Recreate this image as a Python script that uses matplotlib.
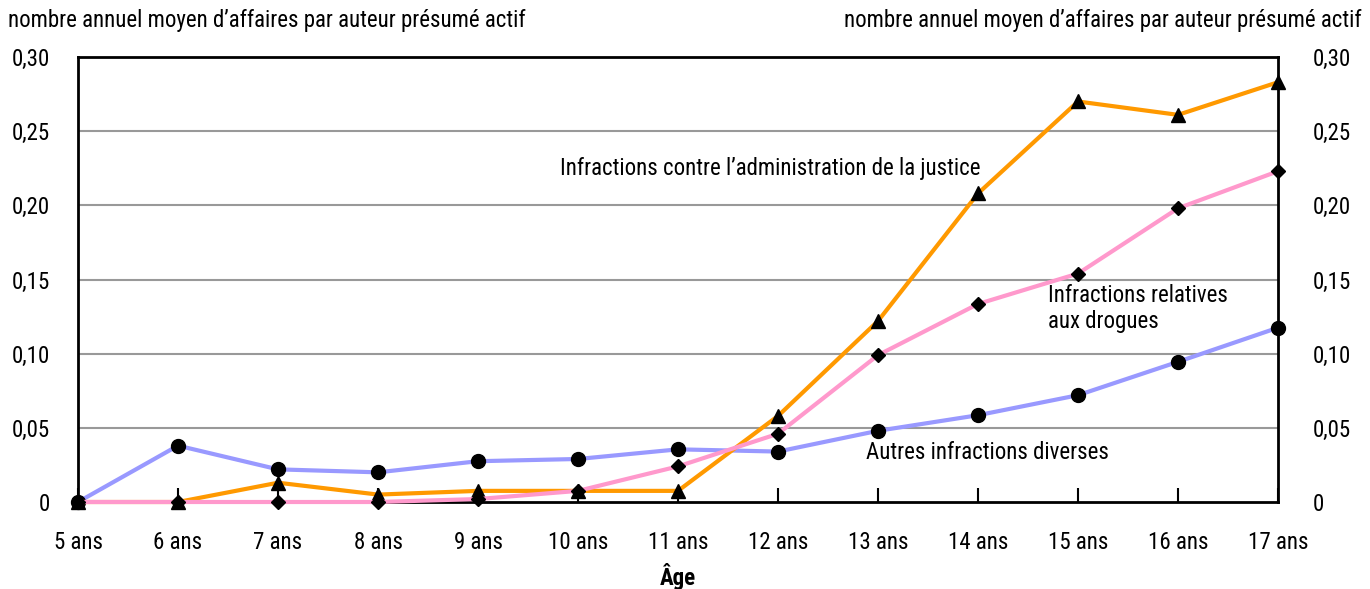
import matplotlib

matplotlib.use("Agg", force=True)
import matplotlib.pyplot as plt
from matplotlib import font_manager
from matplotlib.ticker import FuncFormatter

installed = {f.name for f in font_manager.fontManager.ttflist}
preferred = ["Liberation Sans Narrow", "Roboto Condensed", "Open Sans Condensed",
             "DejaVu Sans Condensed", "Roboto", "DejaVu Sans"]
family = next(n for n in preferred if n in installed)
plt.rcParams["font.family"] = [family, "DejaVu Sans"]

AGES = ["5 ans", "6 ans", "7 ans", "8 ans", "9 ans", "10 ans", "11 ans",
        "12 ans", "13 ans", "14 ans", "15 ans", "16 ans", "17 ans"]
JUSTICE = [0.0, 0.0, 0.013, 0.005, 0.0075, 0.0075, 0.0075,
           0.058, 0.122, 0.208, 0.270, 0.261, 0.283]
DROGUES = [0.0, 0.0, 0.0, 0.0, 0.002, 0.0075, 0.024,
           0.046, 0.099, 0.1335, 0.154, 0.198, 0.223]
AUTRES = [0.0, 0.038, 0.022, 0.020, 0.0275, 0.029, 0.0355,
          0.034, 0.048, 0.0585, 0.072, 0.0945, 0.1175]
Y_TICKS = [0, 0.05, 0.10, 0.15, 0.20, 0.25, 0.30]
Y_LABEL = "nombre annuel moyen d\u2019affaires par auteur présumé actif"

FS = 16.5
x = list(range(len(AGES)))
fmt = FuncFormatter(lambda v, _: "0" if v == 0 else f"{v:.2f}".replace(".", ","))

fig = plt.figure(figsize=(13.7, 5.89), dpi=100)
ax = fig.add_axes([78 / 1370, 87 / 589, 1200 / 1370, 445 / 589])

for y in Y_TICKS[1:-1]:
    ax.axhline(y, color="#999999", lw=1.5, zorder=1)

ax.plot(x, AUTRES, color="#9999FF", lw=3, marker="o", ms=10,
        mfc="black", mec="black", zorder=3, clip_on=False)
ax.plot(x, JUSTICE, color="#FF9900", lw=3, marker="^", ms=10,
        mfc="black", mec="black", zorder=4, clip_on=False)
ax.plot(x, DROGUES, color="#FF99CC", lw=3, marker="D", ms=7,
        mfc="black", mec="black", zorder=5, clip_on=False)

ax.set_xlim(0, len(AGES) - 1)
ax.set_ylim(0, 0.30)
ax.set_xticks(x)
ax.set_xticklabels(AGES)
ax.set_yticks(Y_TICKS)
ax.yaxis.set_major_formatter(fmt)
ax.tick_params(axis="x", direction="in", length=10, width=1.5, pad=21,
               labelsize=FS, colors="black")
ax.tick_params(axis="y", length=0, labelsize=FS, pad=20)
for s in ax.spines.values():
    s.set_linewidth(2)
    s.set_color("black")

# right-hand scale, same values
ax2 = ax.twinx()
ax2.set_ylim(ax.get_ylim())
ax2.set_yticks(Y_TICKS)
ax2.yaxis.set_major_formatter(fmt)
ax2.tick_params(axis="y", length=0, labelsize=FS, pad=25)
for s in ax2.spines.values():
    s.set_visible(False)

ax.set_xlabel("Âge", fontsize=FS, fontweight="bold", labelpad=6)

fig.text(8 / 1370, 1 - 20 / 589, Y_LABEL, fontsize=FS, ha="left", va="center")
fig.text(1362 / 1370, 1 - 20 / 589, Y_LABEL, fontsize=FS, ha="right", va="center")

ax.text(4.82, 0.2245, "Infractions contre l\u2019administration de la justice",
        fontsize=FS, ha="left", va="center")
ax.text(9.7, 0.1305, "Infractions relatives\naux drogues",
        fontsize=FS, ha="left", va="center", linespacing=1.15)
ax.text(7.88, 0.0335, "Autres infractions diverses",
        fontsize=FS, ha="left", va="center")

fig.savefig("out.png", dpi=100)
